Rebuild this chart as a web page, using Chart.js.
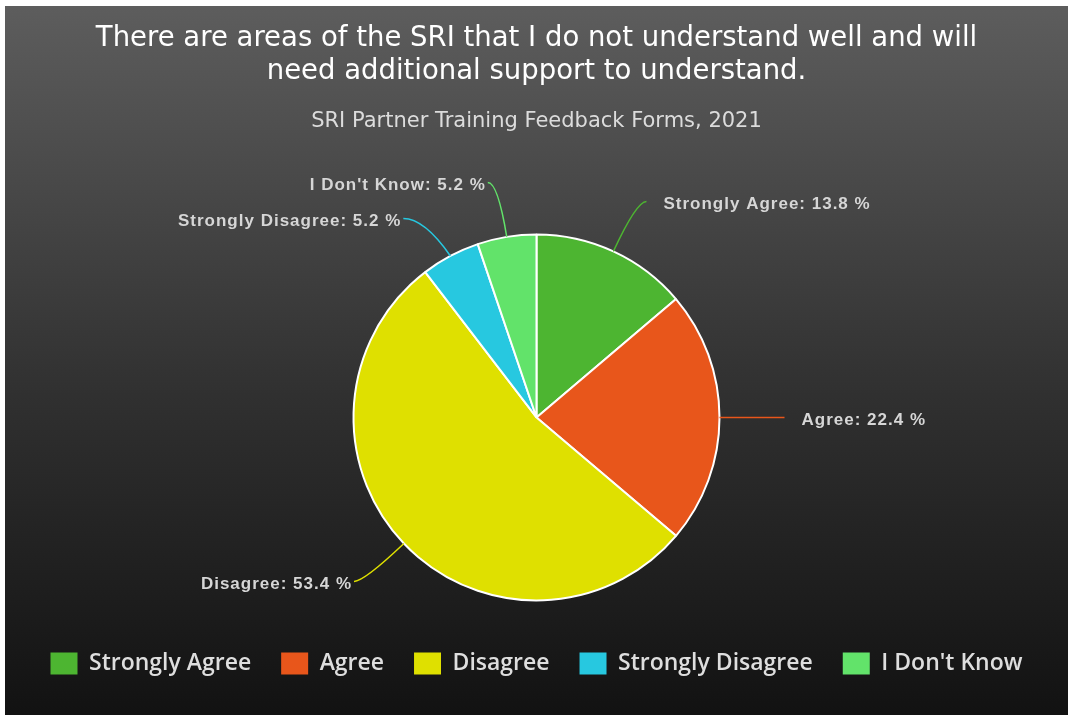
<!DOCTYPE html>
<html>
<head>
<meta charset="utf-8">
<title>SRI Partner Training Feedback</title>
<script src="https://cdn.jsdelivr.net/npm/chart.js@4.4.0/dist/chart.umd.min.js"></script>
<style>
  html, body { margin: 0; padding: 0; background: #ffffff; }
  #wrap { position: absolute; left: 5px; top: 6px; width: 1063px; height: 709px; }
</style>
</head>
<body>
<div id="wrap"><canvas id="feedbackChart"></canvas></div>
<script>
const answers = ['Strongly Agree', 'Agree', 'Disagree', 'Strongly Disagree', "I Don't Know"];
const shares = [13.8, 22.4, 53.4, 5.2, 5.2];
const sliceColors = ['#4db531', '#e8561b', '#dfe000', '#27c8e0', '#62e36a'];

const titleLines = [
  'There are areas of the SRI that I do not understand well and will',
  'need additional support to understand.'
];
const subtitleText = 'SRI Partner Training Feedback Forms, 2021';

// dark vertical gradient behind everything
const backdrop = {
  id: 'backdrop',
  beforeDraw(chart) {
    const { ctx, width, height } = chart;
    const g = ctx.createLinearGradient(0, 0, 0, height);
    g.addColorStop(0, '#5d5d5d');
    g.addColorStop(0.55, '#303030');
    g.addColorStop(1, '#121212');
    ctx.save();
    ctx.fillStyle = g;
    ctx.fillRect(0, 0, width, height);
    ctx.restore();
  }
};

// outside labels with curved leader lines; labels on the same side are
// pushed down when they would overlap
const sliceLabels = {
  id: 'sliceLabels',
  afterDatasetsDraw(chart) {
    const { ctx } = chart;
    const meta = chart.getDatasetMeta(0);
    const values = chart.data.datasets[0].data;
    const items = meta.data.map((arc, i) => {
      const { x, y, startAngle, endAngle, outerRadius } = arc.getProps(['x', 'y', 'startAngle', 'endAngle', 'outerRadius'], true);
      const mid = (startAngle + endAngle) / 2;
      const cos = Math.cos(mid), sin = Math.sin(mid);
      const side = cos >= -0.001 ? 1 : -1;
      const p0 = { x: x + cos * outerRadius, y: y + sin * outerRadius };
      const bend = { x: x + cos * (outerRadius + 55), y: y + sin * (outerRadius + 55) };
      return { i, side, p0, bend, ly: bend.y };
    });

    [1, -1].forEach(side => {
      const group = items.filter(it => it.side === side).sort((a, b) => a.ly - b.ly);
      for (let k = 1; k < group.length; k++) {
        if (group[k].ly < group[k - 1].ly + 36) group[k].ly = group[k - 1].ly + 36;
      }
    });

    items.forEach(it => {
      const { i, side, p0, bend, ly } = it;
      const shift = Math.abs(ly - bend.y);
      const ctrl = { x: bend.x, y: ly };
      const end = { x: bend.x + side * (10 + shift), y: ly };

      ctx.save();
      ctx.strokeStyle = sliceColors[i];
      ctx.lineWidth = 1.5;
      ctx.beginPath();
      ctx.moveTo(p0.x, p0.y);
      ctx.quadraticCurveTo(ctrl.x, ctrl.y, end.x, end.y);
      ctx.stroke();

      ctx.font = 'bold 17px "Liberation Sans", Arial, sans-serif';
      ctx.letterSpacing = '1px';
      ctx.fillStyle = '#d6d6d6';
      ctx.textBaseline = 'middle';
      ctx.textAlign = side > 0 ? 'left' : 'right';
      const text = chart.data.labels[i] + ': ' + values[i] + ' %';
      ctx.fillText(text, end.x + (side > 0 ? 17 : -2), end.y + 3);
      ctx.restore();
    });
  }
};

new Chart(document.getElementById('feedbackChart'), {
  type: 'pie',
  data: {
    labels: answers,
    datasets: [{
      data: shares,
      backgroundColor: sliceColors,
      borderColor: '#ffffff',
      borderWidth: 2
    }]
  },
  options: {
    responsive: true,
    maintainAspectRatio: false,
    animation: false,
    radius: 183,
    layout: { padding: { top: 0, bottom: 30, left: 0, right: 0 } },
    plugins: {
      title: {
        display: true,
        text: titleLines,
        color: '#ffffff',
        font: { family: '"DejaVu Sans", sans-serif', size: 27.5, weight: 'normal', lineHeight: 33 / 27.5 },
        padding: { top: 16.5, bottom: 10 }
      },
      subtitle: {
        display: true,
        text: subtitleText,
        color: '#dcdcdc',
        font: { family: '"DejaVu Sans", sans-serif', size: 21, weight: 'normal', lineHeight: 1.2 },
        padding: { top: 10.8, bottom: 78.4 }
      },
      legend: {
        position: 'bottom',
        labels: {
          color: '#dedede',
          boxWidth: 27,
          boxHeight: 22,
          padding: 30,
          font: { family: '"Open Sans", sans-serif', size: 23, weight: '600' },
          // plain filled squares, no slice border around them
          generateLabels(chart) {
            return Chart.overrides.pie.plugins.legend.labels.generateLabels(chart)
              .map(item => Object.assign(item, { lineWidth: 0, strokeStyle: 'rgba(0,0,0,0)' }));
          }
        }
      },
      tooltip: { enabled: false }
    }
  },
  plugins: [backdrop, sliceLabels]
});
</script>
</body>
</html>
